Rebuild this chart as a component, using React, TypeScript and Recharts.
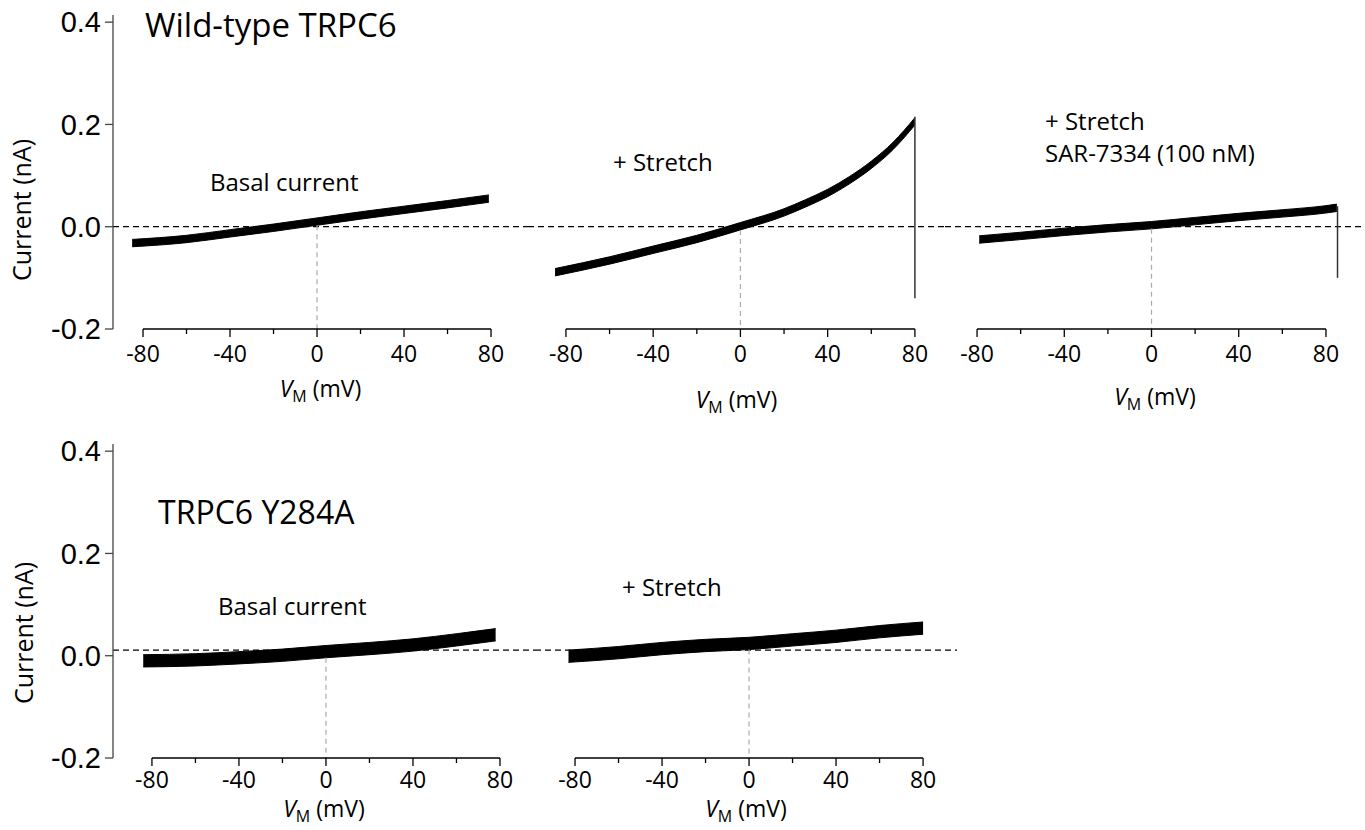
import React from 'react';
import { ComposedChart, Area, Line, XAxis, YAxis, ReferenceLine } from 'recharts';

// I-V ramps: membrane voltage (mV) and current (nA)
const wtBasalV = [-85, -60, -40, -20, 0, 20, 40, 60, 79];
const wtBasalI = [-0.032, -0.024, -0.013, -0.002, 0.01, 0.022, 0.033, 0.044, 0.055];

const wtStretchV = [-85, -60, -40, -20, 0, 20, 30, 40, 50, 60, 70, 80];
const wtStretchI = [-0.089, -0.066, -0.045, -0.024, 0.001, 0.028, 0.046, 0.066, 0.091, 0.121, 0.158, 0.206];

const wtSarV = [-79, -60, -40, -20, 0, 20, 40, 60, 80, 85];
const wtSarI = [-0.025, -0.018, -0.01, -0.003, 0.003, 0.011, 0.019, 0.026, 0.034, 0.037];

const mutBasalV = [-84, -60, -40, -20, 0, 20, 40, 60, 78];
const mutBasalI = [-0.01, -0.008, -0.004, 0.001, 0.008, 0.014, 0.021, 0.031, 0.041];

const mutStretchV = [-83, -60, -40, -20, 0, 20, 40, 60, 80];
const mutStretchI = [-0.001, 0.006, 0.014, 0.02, 0.024, 0.031, 0.038, 0.047, 0.054];

// capacitive artefacts at the end of the ramp
const wtStretchSpikeV = [80, 80];
const wtStretchSpikeI = [0.215, -0.14];
const wtSarSpikeV = [85.3, 85.3];
const wtSarSpikeI = [0.04, -0.1];

// dashed reference levels
const wtBaseline = 0;
const mutBaseline = 0.011;

const xTicks = [-80, -60, -40, -20, 0, 20, 40, 60, 80];
const yTicks = [-0.2, 0, 0.2, 0.4];
const yDomain: [number, number] = [-0.2, 0.414];

const FONT = '"Open Sans", sans-serif';

const XTick = (props: any) => {
  const { x, y, payload, labelDy } = props;
  const major = payload.value % 40 === 0;
  return (
    <g>
      <line x1={x} y1={y} x2={x} y2={y + (major ? 8 : 5)} stroke="#000" strokeWidth={1.3} />
      {major && (
        <text x={x} y={y + labelDy} textAnchor="middle" fontFamily={FONT} fontSize={23} fill="#000">
          {payload.value}
        </text>
      )}
    </g>
  );
};

const VmLabel = (props: any) => {
  const { viewBox, labelDy } = props;
  if (!viewBox) return null;
  const cx = viewBox.x + viewBox.width / 2;
  return (
    <text x={cx} y={viewBox.y + labelDy} textAnchor="middle" fontFamily={FONT} fontSize={23} fill="#000">
      <tspan fontStyle="italic">V</tspan>
      <tspan fontSize={16} dy={5}>M</tspan>
      <tspan dy={-5}> (mV)</tspan>
    </text>
  );
};

interface PanelProps {
  left: number;
  top: number;
  width: number;
  height: number;
  marginBottom: number;
  axisH: number;
  xDomain: [number, number];
  v: number[];
  i: number[];
  half: number;
  baseline: number;
  spikeV?: number[];
  spikeI?: number[];
  showY?: boolean;
  tickDy: number;
  labelDy: number;
}

const Panel: React.FC<PanelProps> = (p) => {
  const band = p.v.map((v, k) => ({ v, band: [p.i[k] - p.half, p.i[k] + p.half] }));
  const spike = p.spikeV ? p.spikeV.map((v, k) => ({ v, i: p.spikeI![k] })) : null;
  const k0 = p.v.indexOf(0);
  const grayTop = p.i[k0] - p.half;

  return (
    <div style={{ position: 'absolute', left: p.left, top: p.top }}>
      <ComposedChart
        width={p.width}
        height={p.height}
        data={band}
        margin={{ top: 15, right: 0, bottom: p.marginBottom, left: 0 }}
      >
        <XAxis
          type="number"
          dataKey="v"
          domain={p.xDomain}
          allowDataOverflow
          ticks={xTicks}
          interval={0}
          axisLine={false}
          tickLine={false}
          tickSize={0}
          tickMargin={0}
          height={p.axisH}
          tick={(t: any) => <XTick {...t} labelDy={p.tickDy} />}
          label={(l: any) => <VmLabel {...l} labelDy={p.labelDy} />}
        />
        {p.showY ? (
          <YAxis
            type="number"
            domain={yDomain}
            allowDataOverflow
            ticks={yTicks}
            interval={0}
            width={113}
            tickSize={8}
            tickMargin={4}
            stroke="#444"
            strokeWidth={1.3}
            tickFormatter={(val: number) => val.toFixed(1)}
            tick={{ fill: '#000', fontSize: 29, fontFamily: '"Liberation Sans", Arial, sans-serif' }}
          />
        ) : (
          <YAxis type="number" domain={yDomain} allowDataOverflow hide />
        )}
        <ReferenceLine y={p.baseline} stroke="#000" strokeWidth={1.2} strokeDasharray="6 4" />
        <ReferenceLine
          segment={[{ x: 0, y: grayTop }, { x: 0, y: -0.2 }]}
          stroke="#aaa"
          strokeWidth={1.2}
          strokeDasharray="5 4"
          ifOverflow="visible"
        />
        <ReferenceLine
          segment={[{ x: -80, y: -0.2 }, { x: 80, y: -0.2 }]}
          stroke="#000"
          strokeWidth={1.5}
          ifOverflow="visible"
        />
        <Area
          type="monotone"
          dataKey="band"
          stroke="#000"
          strokeWidth={1}
          fill="#000"
          fillOpacity={1}
          dot={false}
          activeDot={false}
          isAnimationActive={false}
        />
        {spike && (
          <Line
            data={spike}
            dataKey="i"
            type="linear"
            stroke="#333"
            strokeWidth={1.5}
            dot={false}
            activeDot={false}
            isAnimationActive={false}
          />
        )}
      </ComposedChart>
    </div>
  );
};

const topRow = { top: 0, height: 420, marginBottom: 10, axisH: 81, tickDy: 33 };
const botRow = { top: 429, height: 401, marginBottom: 0, axisH: 72, tickDy: 30 };

export default function App() {
  return (
    <div
      style={{
        position: 'absolute',
        left: 0,
        top: 0,
        width: 1365,
        height: 830,
        overflow: 'hidden',
        background: '#fff',
      }}
    >
      {/* Wild-type row */}
      <Panel {...topRow} left={0} width={528} xDomain={[-93.8, 97.0]} v={wtBasalV} i={wtBasalI}
        half={0.0072} baseline={wtBaseline} showY labelDy={68} />
      <Panel {...topRow} left={528} width={417} xDomain={[-97.4, 93.8]} v={wtStretchV} i={wtStretchI}
        half={0.0072} baseline={wtBaseline} spikeV={wtStretchSpikeV} spikeI={wtStretchSpikeI} labelDy={79} />
      <Panel {...topRow} left={945} width={420} xDomain={[-94.7, 97.9]} v={wtSarV} i={wtSarI}
        half={0.0072} baseline={wtBaseline} spikeV={wtSarSpikeV} spikeI={wtSarSpikeI} labelDy={76} />

      {/* Y284A row */}
      <Panel {...botRow} left={0} width={535} xDomain={[-97.9, 96.1]} v={mutBasalV} i={mutBasalI}
        half={0.012} baseline={mutBaseline} showY labelDy={59} />
      <Panel {...botRow} left={535} width={422} xDomain={[-98.4, 95.6]} v={mutStretchV} i={mutStretchI}
        half={0.012} baseline={mutBaseline} labelDy={59} />

      <svg width={1365} height={830} style={{ position: 'absolute', left: 0, top: 0, pointerEvents: 'none' }}>
        <g fontFamily={FONT} fill="#000">
          <text x={145} y={37} fontSize={33}>Wild-type TRPC6</text>
          <text x={210} y={191} fontSize={24}>Basal current</text>
          <text x={613} y={171} fontSize={24}>+ Stretch</text>
          <text x={1045} y={130} fontSize={24}>+ Stretch</text>
          <text x={1045} y={162} fontSize={24}>SAR-7334 (100 nM)</text>
          <text x={158} y={524} fontSize={32}>TRPC6 Y284A</text>
          <text x={218} y={615} fontSize={24}>Basal current</text>
          <text x={622} y={596} fontSize={24}>+ Stretch</text>
          <text transform="translate(31, 210) rotate(-90)" textAnchor="middle" fontSize={25}>Current (nA)</text>
          <text transform="translate(33, 633) rotate(-90)" textAnchor="middle" fontSize={25}>Current (nA)</text>
        </g>
      </svg>
    </div>
  );
}
